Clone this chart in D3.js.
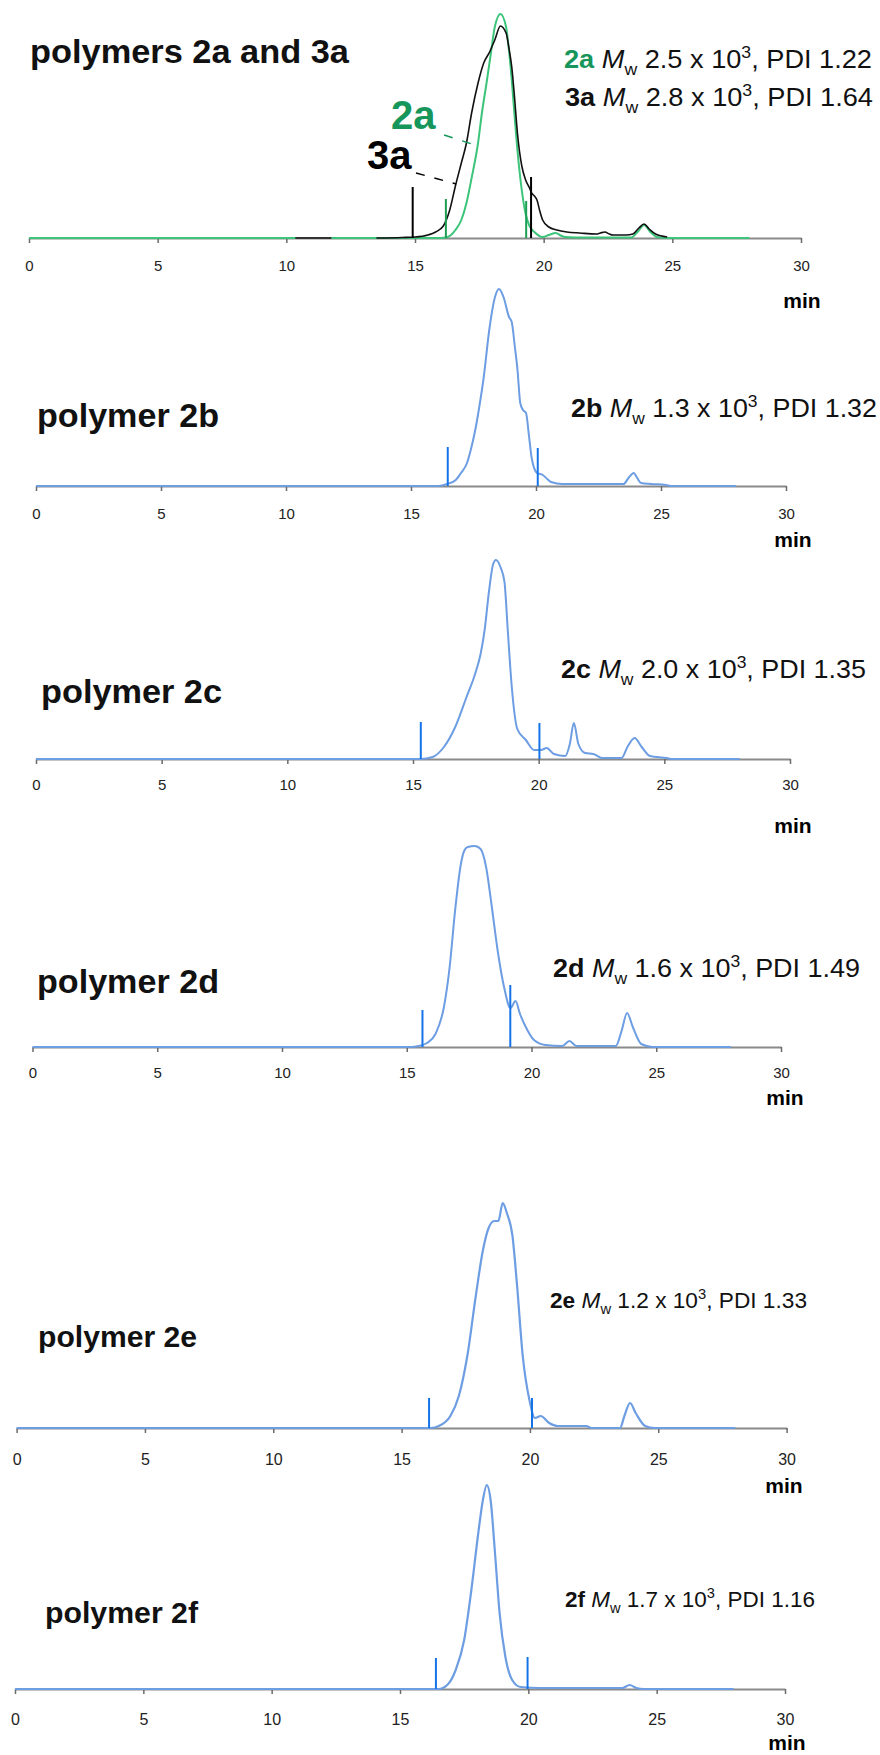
<!DOCTYPE html>
<html>
<head>
<meta charset="utf-8">
<script src="https://cdn.jsdelivr.net/npm/d3@7"></script>
<style>
  body { margin: 0; background: #fff; }
  text { font-family: "Liberation Sans", Arial, Helvetica, sans-serif; }
</style>
</head>
<body>
<div id="chart"></div>
<script>
var w = 880;
var h = 1755;

// elution time axis (min)
var timeTicks = [0, 5, 10, 15, 20, 25, 30];

// GPC traces: [elution time (min), detector signal (a.u.)]
var trace2a = [[0, 0], [16.0, 0], [16.2, 0.5], [16.4, 3], [16.57, 8], [16.8, 18], [17.0, 35], [17.2, 60],
  [17.45, 95], [17.6, 125], [17.78, 155], [17.95, 185], [18.1, 211], [18.32, 224], [18.54, 211],
  [18.65, 188], [18.76, 158], [18.87, 122], [18.98, 88], [19.1, 58], [19.3, 24], [19.45, 12],
  [19.64, 6], [19.96, 1], [20.2, 3], [20.47, 5], [20.7, 2], [20.85, 1], [21.2, 0.5], [23.4, 0.5],
  [23.65, 6], [23.9, 13], [24.15, 6], [24.4, 1], [24.8, 0], [28, 0]];

var trace3a = [[13.5, 0], [14.5, 0.5], [15.0, 1], [15.5, 3], [15.8, 6], [16.1, 12], [16.35, 28],
  [16.57, 52], [16.8, 75], [17.0, 95], [17.2, 125], [17.45, 155], [17.67, 175], [17.9, 186],
  [18.1, 198], [18.32, 212], [18.54, 205], [18.65, 190], [18.76, 171], [18.87, 140], [18.98, 105],
  [19.15, 72], [19.3, 58], [19.45, 50], [19.53, 45], [19.64, 42], [19.74, 38], [19.85, 27],
  [19.96, 18], [20.2, 11], [20.51, 8], [20.9, 6], [21.4, 5], [22.05, 4], [22.2, 5], [22.38, 6],
  [22.55, 4], [22.7, 3], [23.2, 3], [23.47, 4], [23.7, 10], [23.9, 14], [24.1, 9], [24.35, 4], [24.8, 1]];

var trace3aEarly = [[10.35, 0], [11.75, 0]];

var trace2b = [[0, 0], [16.1, 0], [16.45, 2], [16.79, 6], [17.0, 13], [17.24, 23], [17.4, 37],
  [17.57, 56], [17.75, 82], [17.91, 109], [18.13, 156], [18.36, 189], [18.52, 197], [18.7, 189],
  [18.92, 169], [19.03, 164], [19.15, 140], [19.26, 116], [19.37, 83], [19.48, 76], [19.6, 73],
  [19.72, 50], [19.82, 29], [20.04, 13], [20.27, 11], [20.45, 7], [20.6, 4], [21.05, 2], [23.5, 2],
  [23.7, 8], [23.91, 13], [24.05, 8], [24.2, 3], [24.6, 2], [25.2, 1], [25.4, 0], [28, 0]];

var trace2c = [[0, 0], [15.3, 0], [15.78, 2], [16.23, 12], [16.68, 32], [17.13, 62], [17.47, 85],
  [17.69, 105], [17.85, 129], [18.03, 169], [18.19, 195], [18.3, 199], [18.48, 192], [18.64, 177],
  [18.77, 129], [18.93, 72], [19.15, 30], [19.49, 19], [19.82, 9], [20.09, 9], [20.32, 11],
  [20.61, 5], [21.06, 3], [21.24, 15], [21.4, 36], [21.58, 15], [21.85, 6], [22.18, 5], [22.52, 1],
  [23.3, 1], [23.53, 12], [23.82, 21], [24.1, 12], [24.43, 3], [25.1, 1], [25.3, 0], [28, 0]];

var trace2d = [[0, 0], [15.2, 0], [15.47, 1], [15.81, 4], [16.15, 13], [16.49, 40], [16.72, 80],
  [16.94, 137], [17.17, 183], [17.3, 196], [17.44, 200], [17.73, 201], [17.96, 198], [18.18, 180],
  [18.41, 140], [18.64, 97], [18.9, 60], [19.16, 39], [19.36, 46], [19.54, 33], [19.77, 20],
  [20.1, 7], [20.56, 2], [21.23, 1], [21.52, 6], [21.8, 1], [23.38, 1], [23.61, 16], [23.83, 34],
  [24.06, 20], [24.4, 3], [24.85, 0], [28, 0]];

var trace2e = [[0, 0], [16.13, 0], [16.45, 2], [16.9, 12], [17.23, 32], [17.56, 72], [17.89, 132],
  [18.17, 178], [18.39, 200], [18.61, 207], [18.77, 207], [18.94, 225], [19.1, 215], [19.32, 192],
  [19.5, 142], [19.72, 72], [19.98, 28], [20.2, 10], [20.42, 12], [20.75, 5], [21.08, 2],
  [22.19, 2], [22.4, 0], [23.51, 0], [23.68, 12], [23.9, 25], [24.12, 15], [24.49, 2], [24.85, 0], [28, 0]];

var trace2f = [[0, 0], [16.5, 0], [16.84, 4], [17.17, 19], [17.5, 49], [17.78, 99], [18.05, 156],
  [18.23, 189], [18.38, 204], [18.53, 189], [18.71, 133], [18.88, 76], [19.1, 33], [19.37, 9],
  [19.7, 2], [20.47, 1], [23.66, 1], [23.95, 4], [24.21, 1], [24.5, 0], [28, 0]];

// integration limits: [time (min), marker height (a.u.)]
var limits2a = [[16.2, 39], [19.32, 37]];
var limits3a = [[14.91, 51], [19.51, 61]];
var limits2b = [[16.47, 39], [20.07, 38]];
var limits2c = [[15.31, 37], [20.03, 36]];
var limits2d = [[15.63, 37], [19.15, 62]];
var limits2e = [[16.07, 30], [20.08, 30]];
var limits2f = [[16.4, 31], [19.97, 32]];

// sample results
var sampleNames = ["2a", "3a", "2b", "2c", "2d", "2e", "2f"];
var mwValues = ["2.5", "2.8", "1.3", "2.0", "1.6", "1.2", "1.7"]; // x 10^3
var pdiValues = ["1.22", "1.64", "1.32", "1.35", "1.49", "1.33", "1.16"];
var panelTitles = ["polymers 2a and 3a", "polymer 2b", "polymer 2c", "polymer 2d", "polymer 2e", "polymer 2f"];

var green = "#3cc47a", greenText = "#16965a", blue = "#6d9de2", markBlue = "#1573e8";

var svg = d3.select("#chart").append("svg")
  .attr("width", w)
  .attr("height", h);

// panel layout in pixels
var panels = [
  { x0: 29, x1: 801, base: 238, tickY: 271, tickFont: 15, minX: 802, minY: 308,
    title: [30, 63, 319, 33], labels: [[0, 564, 68, 308, 26], [1, 565, 106, 308, 26]],
    series: [{ d: trace2a, c: green, sw: 2 }, { d: trace3aEarly, c: "#333", sw: 2 }, { d: trace3a, c: "#111", sw: 1.6 }],
    limits: [{ d: limits3a, c: "#000" }, { d: limits2a, c: "#1e9e55" }] },
  { x0: 36, x1: 786, base: 486, tickY: 519, tickFont: 15, minX: 793, minY: 547,
    title: [37, 427, 182, 33], labels: [[2, 571, 417, 306, 26]],
    series: [{ d: trace2b, c: blue, sw: 2 }], limits: [{ d: limits2b, c: markBlue }] },
  { x0: 36, x1: 790, base: 759, tickY: 790, tickFont: 15, minX: 793, minY: 833,
    title: [41, 703, 181, 33], labels: [[3, 561, 678, 305, 26]],
    series: [{ d: trace2c, c: blue, sw: 2 }], limits: [{ d: limits2c, c: markBlue }] },
  { x0: 32.5, x1: 781, base: 1047, tickY: 1078, tickFont: 15, minX: 785, minY: 1105,
    title: [37, 993, 182, 33], labels: [[4, 553, 977, 307, 26]],
    series: [{ d: trace2d, c: blue, sw: 2 }], limits: [{ d: limits2d, c: markBlue }] },
  { x0: 16.6, x1: 786.6, base: 1428, tickY: 1465, tickFont: 16, minX: 784, minY: 1493,
    title: [38, 1347, 159, 29], labels: [[5, 550, 1308, 257, 22]],
    series: [{ d: trace2e, c: blue, sw: 2.2 }], limits: [{ d: limits2e, c: markBlue }] },
  { x0: 15, x1: 785, base: 1689, tickY: 1725, tickFont: 16, minX: 787, minY: 1750,
    title: [45, 1623, 153, 29], labels: [[6, 565, 1607, 250, 22]],
    series: [{ d: trace2f, c: blue, sw: 2.2 }], limits: [{ d: limits2f, c: markBlue }] }
];

panels.forEach(function(p) {
  var x = d3.scaleLinear().domain([0, 30]).range([p.x0, p.x1]);
  var y = d3.scaleLinear().domain([0, 250]).range([p.base, p.base - 250]);
  var g = svg.append("g");

  // time axis
  var ax = g.append("g")
    .attr("transform", "translate(0," + p.base + ")")
    .call(d3.axisBottom(x).tickValues(timeTicks).tickSize(5).tickSizeOuter(0).tickFormat(d3.format("d")));
  ax.select(".domain").attr("stroke", "#8a8a8a").attr("stroke-width", 2);
  ax.selectAll(".tick line").attr("stroke", "#6a6a6a").attr("stroke-width", 1.5);
  ax.selectAll(".tick text")
    .attr("y", p.tickY - p.base).attr("dy", 0)
    .attr("font-size", p.tickFont)
    .attr("font-family", "'Liberation Sans', Arial, sans-serif")
    .attr("fill", "#222");

  g.append("text")
    .attr("x", p.minX).attr("y", p.minY)
    .attr("text-anchor", "middle")
    .attr("font-size", 21).attr("font-weight", "bold")
    .text("min");

  // traces
  var line = d3.line().x(d => x(d[0])).y(d => y(d[1])).curve(d3.curveMonotoneX);
  p.series.forEach(function(s) {
    g.append("path").datum(s.d)
      .attr("d", line)
      .attr("fill", "none")
      .attr("stroke", s.c)
      .attr("stroke-width", s.sw)
      .attr("stroke-linejoin", "round");
  });

  // integration limit markers
  p.limits.forEach(function(m) {
    g.selectAll(null).data(m.d).enter().append("line")
      .attr("x1", d => x(d[0])).attr("x2", d => x(d[0]))
      .attr("y1", y(0)).attr("y2", d => y(d[1]))
      .attr("stroke", m.c).attr("stroke-width", 2);
  });

  // panel title
  g.append("text")
    .attr("x", p.title[0]).attr("y", p.title[1])
    .attr("font-size", p.title[3]).attr("font-weight", "bold")
    .attr("fill", "#111")
    .attr("textLength", p.title[2]).attr("lengthAdjust", "spacingAndGlyphs")
    .text(panelTitles[panels.indexOf(p)]);

  // Mw / PDI labels
  p.labels.forEach(function(l) {
    var i = l[0], fs = l[4];
    var t = g.append("text")
      .attr("x", l[1]).attr("y", l[2])
      .attr("font-size", fs)
      .attr("fill", "#111")
      .attr("textLength", l[3]).attr("lengthAdjust", "spacingAndGlyphs");
    t.append("tspan").attr("font-weight", "bold")
      .attr("fill", sampleNames[i] == "2a" ? greenText : "#111")
      .text(sampleNames[i] + " ");
    t.append("tspan").attr("font-style", "italic").text("M");
    t.append("tspan").attr("font-size", fs * 0.65).attr("dy", fs * 0.28).text("w");
    t.append("tspan").attr("dy", -fs * 0.28).text(" " + mwValues[i] + " x 10");
    t.append("tspan").attr("font-size", fs * 0.65).attr("dy", -fs * 0.4).text("3");
    t.append("tspan").attr("dy", fs * 0.4).text(", PDI " + pdiValues[i]);
  });

  // curve call-outs on the first panel
  if (p.base === 238) {
    var callouts = [
      { name: "2a", c: greenText, tx: 391, ty: 129, from: [16.13, 103], to: [17.45, 92] },
      { name: "3a", c: "#000", tx: 367, ty: 169, from: [15.04, 65], to: [16.6, 54] }
    ];
    callouts.forEach(function(co) {
      g.append("text")
        .attr("x", co.tx).attr("y", co.ty)
        .attr("font-size", 40).attr("font-weight", "bold")
        .attr("fill", co.c)
        .text(co.name);
      g.append("line")
        .attr("x1", x(co.from[0])).attr("y1", y(co.from[1]))
        .attr("x2", x(co.to[0])).attr("y2", y(co.to[1]))
        .attr("stroke", co.c).attr("stroke-width", 1.5)
        .attr("stroke-dasharray", "9,10");
    });
  }
});
</script>
</body>
</html>
